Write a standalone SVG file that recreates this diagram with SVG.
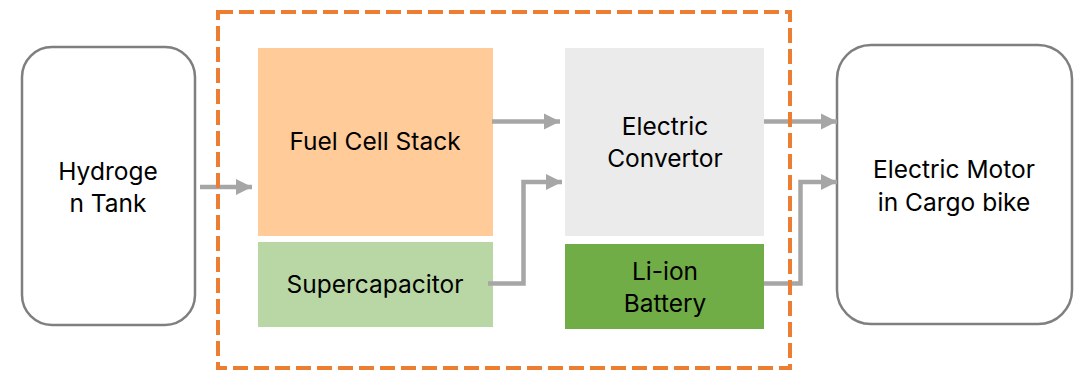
<svg xmlns="http://www.w3.org/2000/svg" width="1081" height="371" viewBox="0 0 1081 371">
<style>
text{font-family:Inter,"Liberation Sans",sans-serif;font-size:24.5px;fill:#000;text-anchor:middle}
.term{fill:#fff;stroke:#7f7f7f;stroke-width:2.5}
.conn{fill:none;stroke:#a6a6a6;stroke-width:4.5}
.bound{fill:none;stroke:#ed7d31;stroke-width:4;stroke-dasharray:15 6}
</style>
<defs>
<marker id="arr" viewBox="0 0 10 10" refX="10" refY="5" markerWidth="3.6" markerHeight="3.6" markerUnits="strokeWidth" orient="auto">
<path d="M0,0 L10,5 L0,10 Z" fill="#a6a6a6"/>
</marker>
</defs>
<g id="hydrogen-tank">
<rect class="term" x="22" y="47" width="173" height="278" rx="30"/>
<text x="108" y="180">Hydroge</text>
<text x="108" y="212">n Tank</text>
</g>
<g id="electric-motor">
<rect class="term" x="837" y="45" width="235" height="279" rx="34"/>
<text x="954" y="178">Electric Motor</text>
<text x="954" y="211">in Cargo bike</text>
</g>
<g id="fuel-cell-stack">
<rect x="258" y="48" width="235" height="188" fill="#ffcb98"/>
<text x="375" y="150">Fuel Cell Stack</text>
</g>
<g id="supercapacitor">
<rect x="258" y="242" width="235" height="85" fill="#b8d7a4"/>
<text x="375" y="293">Supercapacitor</text>
</g>
<g id="electric-convertor">
<rect x="565" y="48" width="199" height="188" fill="#ebebeb"/>
<text x="665" y="135">Electric</text>
<text x="665" y="167">Convertor</text>
</g>
<g id="li-ion-battery">
<rect x="565" y="244" width="199" height="85" fill="#70ad47"/>
<text x="665" y="280">Li-ion</text>
<text x="665" y="312">Battery</text>
</g>
<g id="connectors">
<path class="conn" d="M200,187 H252" marker-end="url(#arr)"/>
<path class="conn" d="M492,121.5 H560" marker-end="url(#arr)"/>
<path class="conn" d="M488,283.5 H523.5 V182 H562" marker-end="url(#arr)"/>
<path class="conn" d="M764,121.5 H837" marker-end="url(#arr)"/>
<path class="conn" d="M764,283.5 H800.5 V182 H837" marker-end="url(#arr)"/>
</g>
<g id="system-boundary">
<rect class="bound" x="218" y="12" width="572" height="356"/>
</g>
</svg>
